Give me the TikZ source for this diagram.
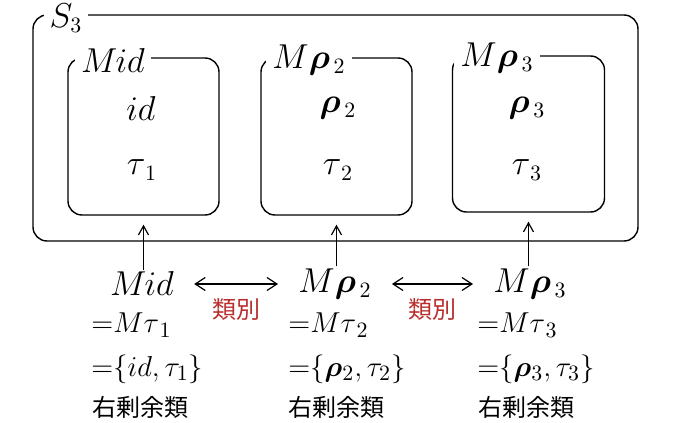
\documentclass[tikz,border=0pt]{standalone}
\usepackage{amsmath,bm}
\usepackage{fontspec}
\usetikzlibrary{positioning,arrows.meta}
\newfontfamily\jpfont{Noto Sans CJK JP}
\definecolor{ruired}{RGB}{185,45,45}
\newcommand{\rb}{\bm{\rho}}
\tikzset{
  setbox/.style={draw, line width=0.7pt, rounded corners=7pt, inner sep=0pt},
  tag/.style={fill=white, inner xsep=3pt, inner ysep=1.5pt, font=\fontsize{16}{19}\selectfont},
  elem/.style={inner sep=1pt, font=\fontsize{16}{19}\selectfont},
  row/.style={anchor=west, inner sep=0pt, font=\fontsize{15}{18}\selectfont},
  jp/.style={anchor=west, inner sep=0pt, font=\jpfont\fontsize{12}{14}\selectfont},
  kind/.style={inner sep=0pt, text=ruired, font=\jpfont\fontsize{12}{14}\selectfont},
  up/.style={-{Straight Barb[length=4.5pt,width=5pt]}, line width=0.6pt, shorten >=4.5pt},
  both/.style={{Straight Barb[length=5pt,width=6.5pt]}-{Straight Barb[length=5pt,width=6.5pt]},
    line width=0.6pt, shorten <=9pt, shorten >=9pt}
}
\begin{document}
\begin{tikzpicture}[x=0.5pt, y=-0.5pt]
		%%%%% START %%%%%
		\useasboundingbox (0,0) rectangle (677,423);
		
		% the group and its three cosets
		\node[setbox, minimum width=302.5pt, minimum height=113pt] (s3) at (335.5,128) {};
		\node[tag] (s3lab) at (66,18) {$S_3$};
		
		\node[setbox, minimum width=75.5pt, minimum height=78.5pt] (box1) at (143.5,136.5) {};
		\node[setbox, minimum width=75.5pt, minimum height=78.5pt] (box2) at (336.5,136.5) {};
		\node[setbox, minimum width=76pt, minimum height=78pt] (box3) at (528.5,134) {};
		
		\node[tag] (lab1) at (113,60) {$M\mkern-1mu id$};
		\node[tag] (lab2) at (309,60) {$M\rb_{\,2}$};
		\node[tag] (lab3) at (497,58) {$M\rb_{\,3}$};
		
		\node[elem] (id) at (141,108) {$id$};
		\node[elem] (t1) at (142,170) {$\tau_{\,1}$};
		\node[elem] (r2) at (338,108) {$\rb_{\,2}$};
		\node[elem] (t2) at (338,170) {$\tau_{\,2}$};
		\node[elem] (r3) at (527,108) {$\rb_{\,3}$};
		\node[elem] (t3) at (527,170) {$\tau_{\,3}$};
		
		% right cosets below
		\node[elem] (lb1) at (142,284) {$M\mkern-1mu id$};
		\node[elem] (lb2) at (335,284) {$M\rb_{\,2}$};
		\node[elem] (lb3) at (530,284) {$M\rb_{\,3}$};
		
		\draw[up] (lb1.north -| box1.south) -- (box1.south);
		\draw[up] (lb2.north -| box2.south) -- (box2.south);
		\draw[up] (lb3.north -| box3.south) -- (box3.south);
		
		\draw[both] (lb1) -- (lb2) node[kind, midway, below=7pt] (k1) {類別};
		\draw[both] (lb2) -- (lb3) node[kind, midway, below=7pt] (k2) {類別};
		
		\node[row] (eq1) at (91,325) {${=}M\tau_{\,1}$};
		\node[row] (eq2) at (288,325) {${=}M\tau_{\,2}$};
		\node[row] (eq3) at (477,325) {${=}M\tau_{\,3}$};
		
		\node[row] (set1) at (91,369) {${=}\{id,\tau_{1}\}$};
		\node[row] (set2) at (288,369) {${=}\{\rb_{2},\tau_{2}\}$};
		\node[row] (set3) at (477,369) {${=}\{\rb_{3},\tau_{3}\}$};
		
		\node[jp] (rc1) at (92,407) {右剰余類};
		\node[jp] (rc2) at (288,407) {右剰余類};
		\node[jp] (rc3) at (478,407) {右剰余類};
		
		%%%%% END %%%%%
	\end{tikzpicture}
\end{document}
